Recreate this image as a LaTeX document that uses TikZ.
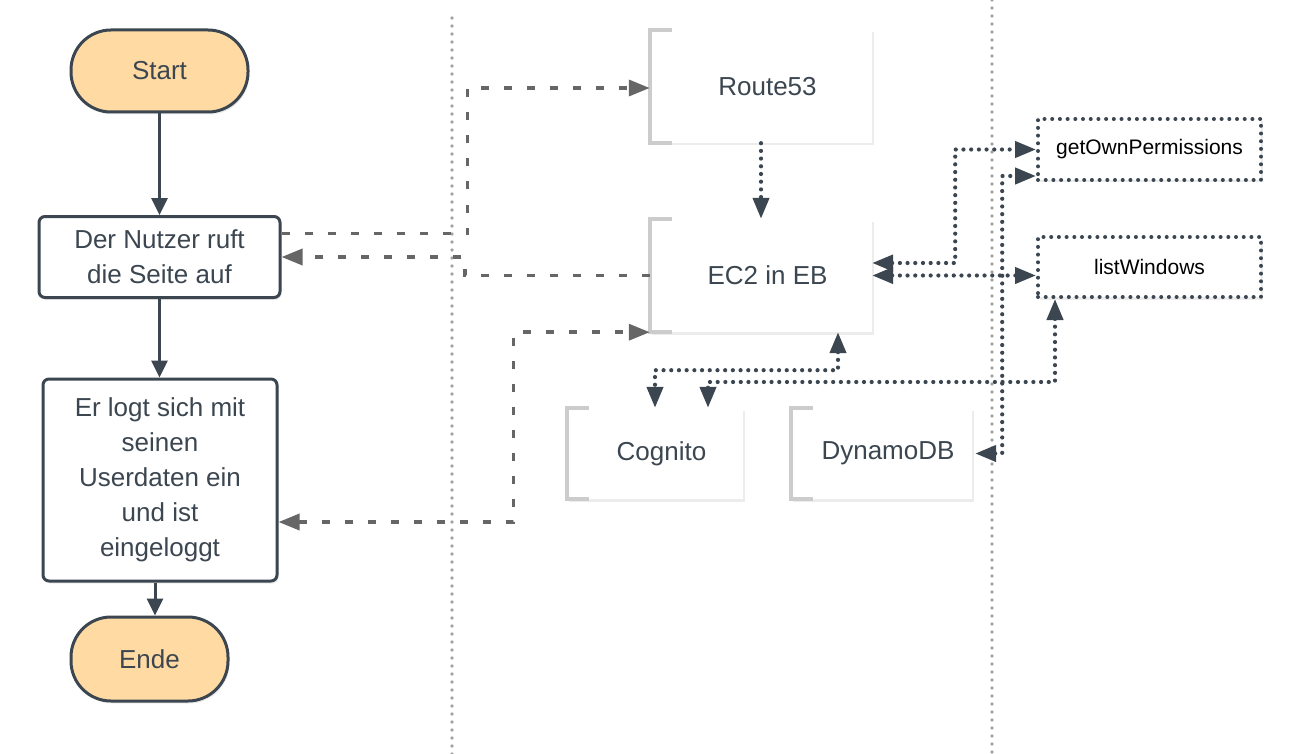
\documentclass[tikz,border=0pt]{standalone}
\usepackage{fontspec}
\setmainfont{Liberation Sans}
\usetikzlibrary{arrows.meta,shadows}
\definecolor{slate}{HTML}{3B4650}
\definecolor{peach}{HTML}{FFDBA3}
\definecolor{dashgray}{HTML}{666666}
\definecolor{sepgray}{HTML}{A3A3A3}
\definecolor{bracketgray}{HTML}{CCCCCC}
\tikzset{
  softshadow/.style={drop shadow={opacity=0.15,shadow xshift=1.5pt,shadow yshift=-2.5pt}},
  terminal/.style={draw=slate, line width=3pt, fill=peach, rounded corners=40pt, text=slate,
    font=\fontsize{26}{35}\selectfont, softshadow},
  process/.style={draw=slate, line width=3pt, fill=white, rounded corners=6pt, align=center, text=slate,
    font=\fontsize{26}{35}\selectfont, softshadow},
  awsbox/.style={fill=white, text=slate, font=\fontsize{26}{35}\selectfont, softshadow,
    execute at begin node={\hspace*{13pt}}},
  bracket/.style={draw=bracketgray, line width=3.5pt},
  funcbox/.style={draw=slate, line width=4pt, line cap=round, dash pattern=on 0pt off 7.7pt, fill=white,
    text=black, font=\fontsize{21}{25}\selectfont, softshadow},
  flow/.style={draw=slate, line width=3pt, -{Triangle[length=17pt,width=16pt]}},
  dashconn/.style={draw=dashgray, line width=3.5pt, dash pattern=on 8pt off 15pt},
  dotconn/.style={draw=slate, line width=4.2pt, line cap=round, dash pattern=on 0pt off 7.7pt},
  separator/.style={draw=sepgray, line width=3.6pt, line cap=round, dash pattern=on 0pt off 8pt}
}
\begin{document}
\begin{tikzpicture}[x=1pt,y=-1pt,>={Triangle[length=21pt,width=16pt]}]
\useasboundingbox (0,0) rectangle (1292,754);
% swimlane separators
\draw[separator] (452,18) -- (452,754);
\draw[separator] (992,0) -- (992,754);

% flowchart
\node[terminal, minimum width=177pt, minimum height=82pt] (start) at (159.5,71) {Start};
\node[process, minimum width=241pt, minimum height=81pt] (nutzer) at (159.5,257) {Der Nutzer ruft\\die Seite auf};
\node[process, minimum width=234pt, minimum height=202pt] (login) at (160,480)
  {Er logt sich mit\\seinen\\Userdaten ein\\und ist\\eingeloggt};
\node[terminal, minimum width=157pt, minimum height=84pt] (ende) at (149.5,659) {Ende};

\draw[flow] (start) -- (start |- nutzer.north);
\draw[flow] (nutzer) -- (nutzer |- login.north);
\draw[flow] ([xshift=5.5pt]ende.north |- login.south) -- ([xshift=5.5pt]ende.north);

% services
\node[awsbox, minimum width=222pt, minimum height=113pt] (route) at (761,86.5) {Route53};
\node[awsbox, minimum width=222pt, minimum height=113pt] (ec2) at (761,275.5) {EC2 in EB};
\node[awsbox, minimum width=176pt, minimum height=91pt] (cognito) at (655,453.5) {Cognito};
\node[awsbox, minimum width=181pt, minimum height=91pt] (dynamo) at (881.5,453.5) {DynamoDB};
\foreach \n in {route,ec2,cognito,dynamo}
  \draw[bracket] ([xshift=22pt]\n.north west) -- (\n.north west) -- (\n.south west) -- ([xshift=22pt]\n.south west);

% lambdas
\node[funcbox, minimum width=223pt, minimum height=61pt] (getown) at (1149.5,149.5) {getOwnPermissions};
\node[funcbox, minimum width=223pt, minimum height=60pt] (listw) at (1149.5,267) {listWindows};

% dashed requests
\draw[dashconn, ->] ([yshift=23.5pt]nutzer.east) -- ++(186,0) |- ([yshift=-1.5pt]route.west);
\draw[dashconn, ->] (ec2.west) -- ++(-185,0) |- (nutzer.east);
\draw[dashconn, <->] ([yshift=-42pt]login.east) -- ++(235,0) |- (ec2.south west);

% dotted calls
\draw[dotconn, ->] (route.south) -- (ec2.north);
\draw[dotconn, <->] ([yshift=12.5pt]ec2.east) -- ++(83,0) |- (getown.west);
\draw[dotconn, <->] (ec2.east) -- (ec2.east -| listw.west);
\draw[dotconn, <->] ([xshift=3pt]dynamo.east) -- ++(27,0) |- ([yshift=-26.5pt]getown.west);
\draw[dotconn, <->] ([xshift=77pt]ec2.south) -- ++(0,38) -| (cognito.north);
\draw[dotconn, <->] ([xshift=-94.5pt]listw.south) -- ++(0,83) -| ([xshift=53pt]cognito.north);
\end{tikzpicture}
\end{document}
